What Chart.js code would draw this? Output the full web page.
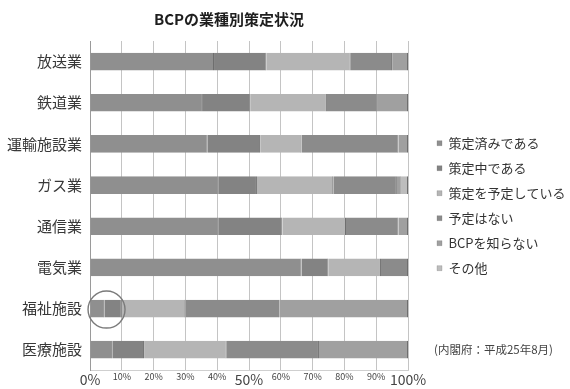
<!DOCTYPE html>
<html><head><meta charset="utf-8">
<script src="https://cdn.jsdelivr.net/npm/chart.js@4.4.0/dist/chart.umd.min.js"></script>
<style>html,body{margin:0;padding:0;background:#fff;}#wrap{width:570px;height:389px;}</style>
</head><body><div id="wrap"><canvas id="c" width="570" height="389"></canvas></div>
<script>
const FONT = '"Noto Sans CJK JP", "Noto Sans", sans-serif';
const titleText = 'BCPの業種別策定状況';
const sourceText = '(内閣府：平成25年8月)';
const categories = ['放送業', '鉄道業', '運輸施設業', 'ガス業', '通信業', '電気業', '福祉施設', '医療施設'];
const seriesNames = ['策定済みである', '策定中である', '策定を予定している', '予定はない', 'BCPを知らない', 'その他'];
const sakuteiZumi = [39, 35.5, 37, 40.5, 40.5, 66.5, 4.5, 7];
const sakuteiChu  = [16.5, 15, 16.5, 12, 20, 8.5, 5.5, 10];
const yoteiAri    = [26.5, 24, 13, 24, 20, 16.5, 20, 26];
const yoteiNashi  = [13, 16, 30.5, 20, 16.5, 8.5, 29.5, 29];
const shiranai    = [5, 9.5, 3, 1.5, 3, 0, 40.5, 28];
const sonota      = [0, 0, 0, 2, 0, 0, 0, 0];
const xTickValues = [0, 10, 20, 30, 40, 50, 60, 70, 80, 90, 100];
const bigTicks = [0, 50, 100];
const seriesColors = ['#8f8f8f', '#838383', '#b5b5b5', '#8b8b8b', '#a0a0a0', '#bdbdbd'];
const circledCategory = 6;   // 福祉施設
const circledValue = 5.2;

const seriesValues = [sakuteiZumi, sakuteiChu, yoteiAri, yoteiNashi, shiranai, sonota];

const extras = {
  id: 'extras',
  afterDraw(chart) {
    const {ctx, scales: {x, y}} = chart;
    ctx.save();
    ctx.fillStyle = '#1e1e1e';
    ctx.font = 'bold 15px ' + FONT;
    ctx.textAlign = 'center';
    ctx.textBaseline = 'middle';
    ctx.fillText(titleText, 229, 19);
    ctx.fillStyle = '#444';
    ctx.font = '11.5px ' + FONT;
    ctx.textAlign = 'left';
    ctx.fillText(sourceText, 434, 350);
    ctx.beginPath();
    ctx.strokeStyle = '#7a7a7a';
    ctx.lineWidth = 1.4;
    ctx.arc(x.getPixelForValue(circledValue), y.getPixelForValue(circledCategory) + 1, 18.5, 0, Math.PI * 2);
    ctx.stroke();
    ctx.restore();
  }
};

new Chart(document.getElementById('c'), {
  type: 'bar',
  data: {
    labels: categories,
    datasets: seriesNames.map((n, i) => ({
      label: n,
      data: seriesValues[i],
      backgroundColor: seriesColors[i],
      borderColor: '#6e6e6e',
      borderWidth: {top: 0, bottom: 0, left: 0, right: 1},
      borderSkipped: false,
      barPercentage: 0.43,
      categoryPercentage: 1
    }))
  },
  options: {
    indexAxis: 'y',
    responsive: false,
    animation: false,
    devicePixelRatio: 1,
    layout: {padding: {top: 41, left: 0, right: 0, bottom: 0}},
    plugins: {
      title: {display: false},
      tooltip: {enabled: false},
      legend: {
        position: 'right',
        fullSize: false,
        maxWidth: 145,
        align: 'center',
        labels: {
          boxWidth: 5,
          boxHeight: 5,
          padding: 12,
          color: '#333',
          font: {family: FONT, size: 13}
        }
      }
    },
    scales: {
      x: {
        stacked: true,
        min: 0,
        max: 100,
        afterBuildTicks(s) { s.ticks = xTickValues.map(v => ({value: v})); },
        ticks: {
          padding: 2,
          color: '#444',
          autoSkip: false,
          maxRotation: 0,
          minRotation: 0,
          callback: v => v + '%',
          font: c => ({family: FONT, lineHeight: 1.05, size: (c.tick && bigTicks.includes(c.tick.value)) ? 14 : 9})
        },
        grid: {color: '#c4c4c4', drawTicks: false},
        border: {color: '#cfcfcf'}
      },
      y: {
        stacked: true,
        afterFit(s) { s.width = 90; },
        ticks: {padding: 8, color: '#383838', font: {family: FONT, size: 15}},
        grid: {display: false, drawTicks: false},
        border: {color: '#9a9a9a'}
      },
      gap: {
        type: 'category',
        axis: 'y',
        position: 'right',
        display: true,
        afterFit(s) { s.width = 17; },
        ticks: {display: false},
        grid: {display: false, drawTicks: false},
        border: {display: false}
      }
    }
  },
  plugins: [extras]
});
</script></body></html>
